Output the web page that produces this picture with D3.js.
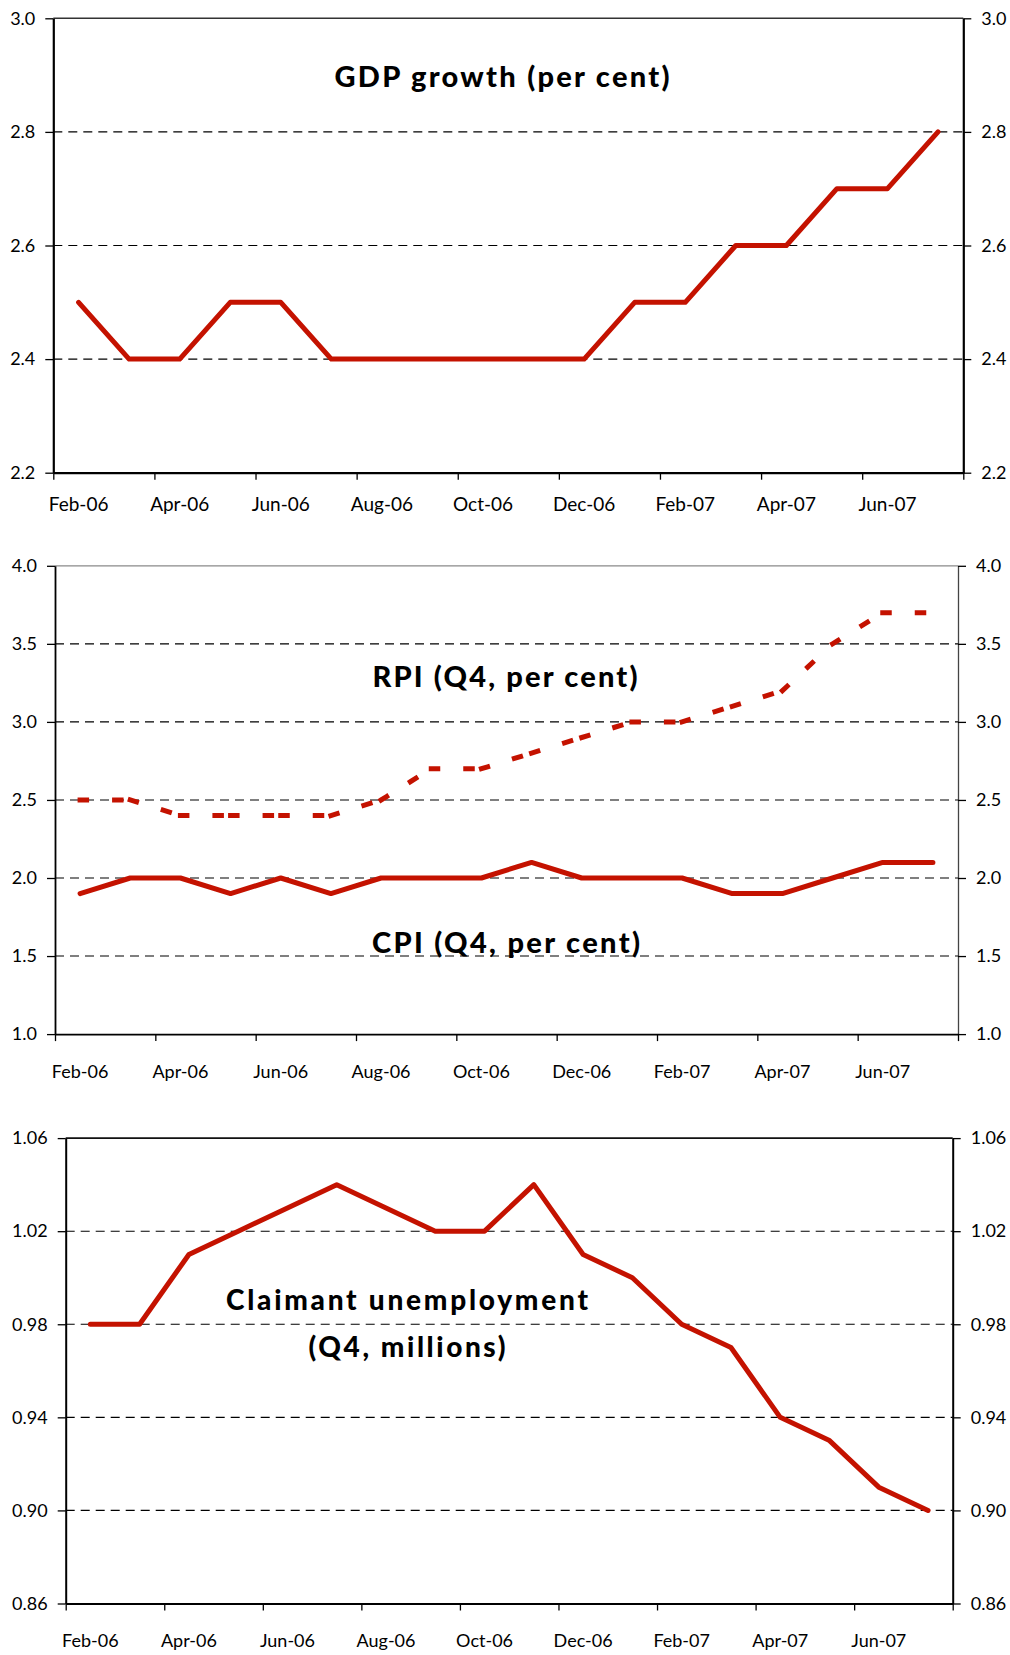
<!DOCTYPE html>
<html>
<head>
<meta charset="utf-8">
<script src="https://cdn.jsdelivr.net/npm/d3@7"></script>
<style>
body { margin: 0; background: #fff; }
text { font-family: Lato, 'Open Sans', sans-serif; fill: #000; }
</style>
</head>
<body>
<script>
const width = 1010
const height = 1655
const red = '#c41200'

// data
const months = ['Feb-06', 'Mar-06', 'Apr-06', 'May-06', 'Jun-06', 'Jul-06', 'Aug-06', 'Sep-06', 'Oct-06',
	'Nov-06', 'Dec-06', 'Jan-07', 'Feb-07', 'Mar-07', 'Apr-07', 'May-07', 'Jun-07', 'Jul-07']
const gdp = [2.5, 2.4, 2.4, 2.5, 2.5, 2.4, 2.4, 2.4, 2.4, 2.4, 2.4, 2.5, 2.5, 2.6, 2.6, 2.7, 2.7, 2.8]
const rpi = [2.5, 2.5, 2.4, 2.4, 2.4, 2.4, 2.5, 2.7, 2.7, 2.8, 2.9, 3.0, 3.0, 3.1, 3.2, 3.5, 3.7, 3.7]
const cpi = [1.9, 2.0, 2.0, 1.9, 2.0, 1.9, 2.0, 2.0, 2.0, 2.1, 2.0, 2.0, 2.0, 1.9, 1.9, 2.0, 2.1, 2.1]
const claimant = [0.98, 0.98, 1.01, 1.02, 1.03, 1.04, 1.03, 1.02, 1.02, 1.04, 1.01, 1.00, 0.98, 0.97, 0.94, 0.93, 0.91, 0.90]

const gdpTicks = [2.2, 2.4, 2.6, 2.8, 3.0]
const inflTicks = [1.0, 1.5, 2.0, 2.5, 3.0, 3.5, 4.0]
const claimTicks = [0.86, 0.90, 0.94, 0.98, 1.02, 1.06]

const svg = d3.select('body')
	.append('svg')
	.attr('width', width)
	.attr('height', height)

const styleAxis = (sel, color, lineWidth, fontSize) => {
	sel.select('.domain').attr('stroke', color).attr('stroke-width', lineWidth)
	sel.selectAll('.tick line').attr('stroke', '#000').attr('stroke-width', 1.3)
	sel.selectAll('.tick text').attr('font-size', fontSize)
}

function drawPanel(p) {
	const innerWidth = p.right - p.left
	const innerHeight = p.bottom - p.top

	const g = svg.append('g')
		.attr('transform', `translate(${p.left},${p.top})`)

	const xScale = d3.scaleBand()
		.domain(months)
		.range([0, innerWidth])

	const edgeScale = d3.scaleLinear()
		.domain([0, months.length])
		.range([0, innerWidth])

	const yScale = d3.scaleLinear()
		.domain(p.domain)
		.range([innerHeight, 0])

	// dashed gridlines
	g.append('g')
		.selectAll('line')
		.data(p.ticks.slice(1, -1))
		.join('line')
		.attr('x1', 0)
		.attr('x2', innerWidth)
		.attr('y1', d => yScale(d))
		.attr('y2', d => yScale(d))
		.attr('stroke', '#000')
		.attr('stroke-width', 1.1)
		.attr('stroke-dasharray', '9,6')

	// top border
	g.append('line')
		.attr('x1', 0)
		.attr('x2', innerWidth)
		.attr('y1', 0)
		.attr('y2', 0)
		.attr('stroke', p.topColor)
		.attr('stroke-width', p.topWidth)

	const fmt = d3.format(p.fmt)

	g.append('g')
		.call(d3.axisLeft(yScale).tickValues(p.ticks).tickSize(8).tickSizeOuter(0).tickPadding(p.padY).tickFormat(fmt))
		.call(styleAxis, '#000', p.axisWidth, p.yFont)

	g.append('g')
		.attr('transform', `translate(${innerWidth},0)`)
		.call(d3.axisRight(yScale).tickValues(p.ticks).tickSize(8).tickSizeOuter(0).tickPadding(p.padY).tickFormat(fmt))
		.call(styleAxis, p.rightColor, p.rightWidth, p.yFont)

	// tick marks at month boundaries
	g.append('g')
		.attr('transform', `translate(0,${innerHeight})`)
		.call(d3.axisBottom(edgeScale).tickValues(d3.range(0, months.length + 1, 2)).tickSize(7).tickSizeOuter(0).tickFormat(''))
		.call(styleAxis, '#000', p.axisWidth, p.xFont)

	// month labels at band centres
	const labels = g.append('g')
		.attr('transform', `translate(0,${innerHeight})`)
		.call(d3.axisBottom(xScale).tickValues(months.filter((d, i) => i % 2 === 0)).tickSize(0).tickPadding(p.padX))
		.call(styleAxis, '#000', 0, p.xFont)
	labels.select('.domain').remove()

	const lineMaker = d3.line()
		.x((d, i) => xScale(d.month) + xScale.bandwidth() / 2)
		.y(d => yScale(d.value))

	p.series.forEach(s => {
		const pts = months.map((m, i) => ({ month: m, value: s.values[i] }))
		if (s.dashed) {
			// excel restarts the dash on each segment
			g.append('g')
				.selectAll('path')
				.data(d3.pairs(pts))
				.join('path')
				.attr('d', d => lineMaker(d))
				.attr('fill', 'none')
				.attr('stroke', red)
				.attr('stroke-width', 5)
				.attr('stroke-linecap', 'square')
				.attr('stroke-dasharray', '6.5,28')
		} else {
			g.append('path')
				.attr('d', lineMaker(pts))
				.attr('fill', 'none')
				.attr('stroke', red)
				.attr('stroke-width', 5)
				.attr('stroke-linejoin', 'round')
				.attr('stroke-linecap', 'round')
		}
	})

	p.titles.forEach(t => {
		svg.append('text')
			.attr('x', t.x)
			.attr('y', t.y)
			.attr('text-anchor', 'middle')
			.attr('font-size', t.size)
			.attr('font-weight', 900)
			.attr('textLength', t.len)
			.attr('lengthAdjust', 'spacing')
			.text(t.text)
	})
}

drawPanel({
	left: 53.3, right: 963.3, top: 18.3, bottom: 472.7,
	domain: [2.2, 3.0], ticks: gdpTicks, fmt: '.1f',
	topColor: '#333', topWidth: 1.6, axisWidth: 2.2, rightColor: '#000', rightWidth: 2.2,
	yFont: 18, xFont: 19, padY: 10, padX: 24.5,
	series: [{ values: gdp }],
	titles: [{ text: 'GDP growth (per cent)', x: 502, y: 87, size: 29, len: 335 }]
})

drawPanel({
	left: 55, right: 958, top: 565.8, bottom: 1034.1,
	domain: [1.0, 4.0], ticks: inflTicks, fmt: '.1f',
	topColor: '#8a8a8a', topWidth: 1.3, axisWidth: 1.8, rightColor: '#444', rightWidth: 1.3,
	yFont: 18, xFont: 18, padY: 10, padX: 31,
	series: [{ values: rpi, dashed: true }, { values: cpi }],
	titles: [
		{ text: 'RPI (Q4, per cent)', x: 505, y: 687, size: 29, len: 265 },
		{ text: 'CPI (Q4, per cent)', x: 506, y: 953, size: 29, len: 268 }
	]
})

drawPanel({
	left: 65.7, right: 952.7, top: 1138.1, bottom: 1603.5,
	domain: [0.86, 1.06], ticks: claimTicks, fmt: '.2f',
	topColor: '#111', topWidth: 1.6, axisWidth: 2, rightColor: '#000', rightWidth: 2,
	yFont: 18, xFont: 18, padY: 10, padX: 31,
	series: [{ values: claimant }],
	titles: [
		{ text: 'Claimant unemployment', x: 407, y: 1310, size: 28, len: 362 },
		{ text: '(Q4, millions)', x: 407, y: 1357, size: 28, len: 197 }
	]
})
</script>
</body>
</html>
